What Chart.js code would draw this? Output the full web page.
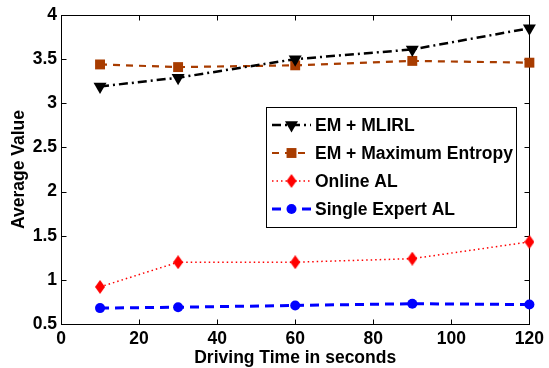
<!DOCTYPE html>
<html>
<head>
<meta charset="utf-8">
<script src="https://cdn.jsdelivr.net/npm/chart.js@4/dist/chart.umd.min.js"></script>
<style>
  html, body { margin: 0; padding: 0; background: #fff; }
</style>
</head>
<body>
<canvas id="chart" width="549" height="368"></canvas>
<script>
// data
const driveTimes = [10, 30, 60, 90, 120];
const emMlirl = [3.19, 3.29, 3.50, 3.61, 3.85];
const emMaxEnt = [3.44, 3.41, 3.43, 3.48, 3.46];
const onlineAL = [0.92, 1.20, 1.20, 1.24, 1.43];
const singleExpertAL = [0.68, 0.69, 0.71, 0.73, 0.72];
const seriesNames = ['EM + MLIRL', 'EM + Maximum Entropy', 'Online AL', 'Single Expert AL'];
const xTicks = [0, 20, 40, 60, 80, 100, 120];
const yTicks = [0.5, 1, 1.5, 2, 2.5, 3, 3.5, 4];

const FONT = 'Liberation Sans, Arial, Helvetica, sans-serif';
const FONT_SIZE = 17.5;
const BROWN = '#a83c00';

// tall red diamond marker
const diamond = document.createElement('canvas');
diamond.width = 10;
diamond.height = 14;
(() => {
    const d = diamond.getContext('2d');
    d.fillStyle = '#ff0000';
    d.beginPath();
    d.moveTo(5, 0);
    d.lineTo(10, 7);
    d.lineTo(5, 14);
    d.lineTo(0, 7);
    d.closePath();
    d.fill();
})();

const toPoints = (ys) => ys.map((y, i) => ({ x: driveTimes[i], y }));

// box around the plot with inward ticks on all four sides
const framePlugin = {
    id: 'frame',
    beforeDatasetsDraw(chart) {
        const { ctx, chartArea: a, scales } = chart;
        const L = Math.round(a.left) + 0.5, R = Math.round(a.right) + 0.5;
        const T = Math.round(a.top) + 0.5, B = Math.round(a.bottom) + 0.5;
        ctx.save();
        ctx.strokeStyle = '#000';
        ctx.lineWidth = 1;
        ctx.setLineDash([]);
        ctx.strokeRect(L, T, R - L, B - T);
        ctx.beginPath();
        xTicks.forEach(v => {
            const px = Math.round(scales.x.getPixelForValue(v)) + 0.5;
            ctx.moveTo(px, B); ctx.lineTo(px, B - 5);
            ctx.moveTo(px, T); ctx.lineTo(px, T + 5);
        });
        yTicks.forEach(v => {
            const py = Math.round(scales.y.getPixelForValue(v)) + 0.5;
            ctx.moveTo(L, py); ctx.lineTo(L + 5, py);
            ctx.moveTo(R, py); ctx.lineTo(R - 5, py);
        });
        ctx.stroke();
        ctx.restore();
    }
};

// legend box inside the plot
const boxLegendPlugin = {
    id: 'boxLegend',
    afterDatasetsDraw(chart) {
        const { ctx } = chart;
        const box = { x: 266.5, y: 107.5, w: 250, h: 120 };
        ctx.save();
        ctx.fillStyle = '#fff';
        ctx.fillRect(box.x, box.y, box.w, box.h);
        ctx.strokeStyle = '#000';
        ctx.lineWidth = 1;
        ctx.setLineDash([]);
        ctx.strokeRect(box.x, box.y, box.w, box.h);

        chart.data.datasets.forEach((ds, i) => {
            const y = 125 + i * 28;
            ctx.save();
            ctx.strokeStyle = ds.borderColor;
            ctx.lineWidth = ds.borderWidth;
            ctx.setLineDash(ds.borderDash || []);
            ctx.beginPath();
            ctx.moveTo(272, y);
            ctx.lineTo(311, y);
            ctx.stroke();
            ctx.setLineDash([]);
            ctx.fillStyle = ds.pointBackgroundColor;
            ctx.strokeStyle = ds.pointBackgroundColor;
            Chart.helpers.drawPoint(ctx, {
                pointStyle: ds.pointStyle,
                rotation: ds.pointRotation || 0,
                radius: ds.pointRadius,
                borderWidth: 0
            }, 291.5, y);
            ctx.restore();

            ctx.fillStyle = '#000';
            ctx.font = 'bold ' + FONT_SIZE + 'px ' + FONT;
            ctx.textBaseline = 'middle';
            ctx.textAlign = 'left';
            ctx.fillText(seriesNames[i], 315, y + 1);
        });
        ctx.restore();
    }
};

const ctx = document.getElementById('chart').getContext('2d');
new Chart(ctx, {
    type: 'line',
    data: {
        datasets: [{
            label: seriesNames[0],
            data: toPoints(emMlirl),
            borderColor: '#000',
            borderWidth: 2.5,
            borderDash: [9, 4, 2, 4],
            pointStyle: 'triangle',
            pointRotation: 180,
            pointRadius: 7.5,
            pointBackgroundColor: '#000',
            pointBorderWidth: 0
        }, {
            label: seriesNames[1],
            data: toPoints(emMaxEnt),
            borderColor: BROWN,
            borderWidth: 2.2,
            borderDash: [7, 6],
            pointStyle: 'rect',
            pointRadius: 7,
            pointBackgroundColor: BROWN,
            pointBorderWidth: 0
        }, {
            label: seriesNames[2],
            data: toPoints(onlineAL),
            borderColor: '#ff0000',
            borderWidth: 1.5,
            borderDash: [1.5, 3],
            pointStyle: diamond,
            pointRadius: 7,
            pointBackgroundColor: '#ff0000',
            pointBorderWidth: 0
        }, {
            label: seriesNames[3],
            data: toPoints(singleExpertAL),
            borderColor: '#0000ff',
            borderWidth: 3,
            borderDash: [9, 6],
            pointStyle: 'circle',
            pointRadius: 5,
            pointBackgroundColor: '#0000ff',
            pointBorderWidth: 0
        }]
    },
    options: {
        responsive: false,
        animation: false,
        devicePixelRatio: 1,
        clip: false,
        layout: {
            autoPadding: false,
            padding: { top: 15, right: 16, left: 0, bottom: 0 }
        },
        elements: { line: { tension: 0 } },
        plugins: {
            legend: { display: false },
            tooltip: { enabled: false }
        },
        scales: {
            x: {
                type: 'linear',
                min: 0,
                max: 120,
                afterFit: (s) => { s.height = 44; },
                afterBuildTicks: (s) => { s.ticks = xTicks.map(v => ({ value: v })); },
                ticks: {
                    autoSkip: false,
                    maxRotation: 0,
                    padding: 5,
                    color: '#000',
                    callback: (v) => String(v),
                    font: { family: FONT, size: FONT_SIZE, weight: 'bold' }
                },
                grid: { display: false, drawTicks: false },
                border: { display: false },
                title: {
                    display: true,
                    text: 'Driving Time in seconds',
                    color: '#000',
                    padding: { top: 0, bottom: -1 },
                    font: { family: FONT, size: FONT_SIZE, weight: 'bold' }
                }
            },
            y: {
                type: 'linear',
                min: 0.5,
                max: 4,
                afterFit: (s) => { s.width = 61; },
                afterBuildTicks: (s) => { s.ticks = yTicks.map(v => ({ value: v })); },
                ticks: {
                    autoSkip: false,
                    padding: 4,
                    color: '#000',
                    callback: (v) => String(v),
                    font: { family: FONT, size: FONT_SIZE, weight: 'bold' }
                },
                grid: { display: false, drawTicks: false },
                border: { display: false },
                title: {
                    display: true,
                    text: 'Average Value',
                    color: '#000',
                    padding: { top: 9, bottom: 0 },
                    font: { family: FONT, size: FONT_SIZE, weight: 'bold' }
                }
            }
        }
    },
    plugins: [framePlugin, boxLegendPlugin]
});
</script>
</body>
</html>
